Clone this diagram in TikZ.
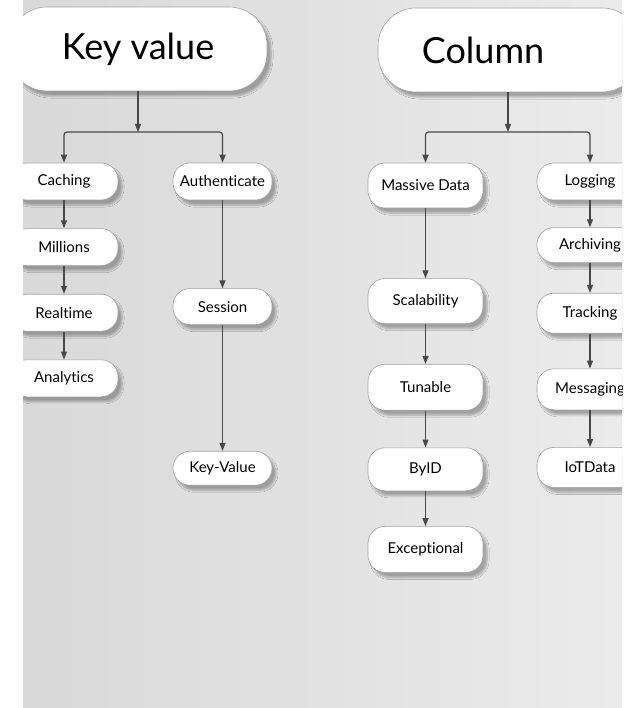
\documentclass[tikz,border=0pt]{standalone}
\usepackage{fontspec}
\setmainfont{Lato}[Ligatures=NoCommon]
\usetikzlibrary{positioning}
\usetikzlibrary{arrows.meta}
\usetikzlibrary{shadows.blur}

\definecolor{walldark}{HTML}{D9D9D9}
\definecolor{walllight}{HTML}{EBEBEB}
\definecolor{linkgray}{HTML}{484848}
\definecolor{rimgray}{HTML}{A3A3A3}

\tikzset{
  softshadow/.style={blur shadow={shadow xshift=4pt, shadow yshift=-5pt, shadow blur steps=8, shadow opacity=30}},
  headbox/.style={draw=rimgray, line width=0.6pt, fill=white, rounded corners=38pt, minimum height=84pt, inner sep=0pt, softshadow, font=\fontsize{36}{40}\selectfont},
  leafbox/.style={draw=rimgray, line width=0.6pt, fill=white, rounded corners=17pt, minimum height=37pt, inner sep=0pt, softshadow, font=\fontsize{15}{18}\selectfont},
  link/.style={draw=linkgray, line width=1.2pt, -{Triangle[length=8pt,width=6pt]}}
}

\begin{document}
\begin{tikzpicture}[x=1pt,y=-1pt]
  \useasboundingbox (0,0) rectangle (632,708);
  \fill[white] (0,0) rectangle (632,708);
  \begin{scope}
    \clip (23,0) rectangle (622,708);
    \shade[left color=walldark, right color=walllight] (23,0) rectangle (622,708);

    % heads
    \node[headbox, minimum width=258pt] (kv) at (138,49) {Key value};
    \node[headbox, minimum width=262pt, label={[font=\fontsize{36}{40}\selectfont, xshift=-26pt]center:Column}] (col) at (509,50) {};
    \coordinate (kvsplit) at (138,132);
    \coordinate (colsplit) at (508,132);

    % key value, left
    \node[leafbox, minimum width=108pt] (caching) at (64,181.5) {Caching};
    \node[leafbox, minimum width=108pt, below = 28pt of caching] (millions) {Millions};
    \node[leafbox, minimum width=108pt, below = 28pt of millions] (realtime) {Realtime};
    \node[leafbox, minimum width=108pt, below = 28pt of realtime] (analytics) {Analytics};

    % key value, right
    \node[leafbox, minimum width=99pt] (auth) at (222.5,181.5) {Authenticate};
    \node[leafbox, minimum width=99pt, minimum height=36pt, below = 88pt of auth] (session) {Session};
    \node[leafbox, minimum width=99pt, minimum height=34pt, below = 126pt of session] (keyval) {Key-Value};

    % column, left
    \node[leafbox, minimum width=115pt, minimum height=45pt] (massive) at (425.5,185.5) {Massive Data};
    \node[leafbox, minimum width=115pt, minimum height=45pt, below = 70pt of massive] (scal) {Scalability};
    \node[leafbox, minimum width=115pt, minimum height=46pt, below = 40pt of scal] (tunable) {Tunable};
    \node[leafbox, minimum width=115pt, minimum height=43pt, below = 37pt of tunable] (byid) {ByID};
    \node[leafbox, minimum width=115pt, minimum height=46pt, below = 35pt of byid] (except) {Exceptional};

    % column, right
    \node[leafbox, minimum width=106pt] (logging) at (590,181.5) {Logging};
    \node[leafbox, minimum width=106pt, minimum height=35pt, below = 27pt of logging] (archiving) {Archiving};
    \node[leafbox, minimum width=106pt, minimum height=40pt, below = 30pt of archiving] (tracking) {Tracking};
    \node[leafbox, minimum width=106pt, minimum height=41pt, below = 35pt of tracking] (messaging) {Messaging};
    \node[leafbox, minimum width=106pt, minimum height=40pt, below = 37pt of messaging] (iot) {IoTData};

    \draw[link] (kv) -- (kvsplit);
    \draw[link, rounded corners=3pt] (kvsplit) -| (caching);
    \draw[link, rounded corners=3pt] (kvsplit) -| (auth);
    \draw[link] (col.south -| colsplit) -- (colsplit);
    \draw[link, rounded corners=3pt] (colsplit) -| (massive);
    \draw[link, rounded corners=3pt] (colsplit) -| (logging);

    \draw[link] (caching) -- (millions);
    \draw[link] (millions) -- (realtime);
    \draw[link] (realtime) -- (analytics);
    \draw[link] (auth) -- (session);
    \draw[link] (session) -- (keyval);
    \draw[link] (massive) -- (scal);
    \draw[link] (scal) -- (tunable);
    \draw[link] (tunable) -- (byid);
    \draw[link] (byid) -- (except);
    \draw[link] (logging) -- (archiving);
    \draw[link] (archiving) -- (tracking);
    \draw[link] (tracking) -- (messaging);
    \draw[link] (messaging) -- (iot);
  \end{scope}
\end{tikzpicture}
\end{document}
